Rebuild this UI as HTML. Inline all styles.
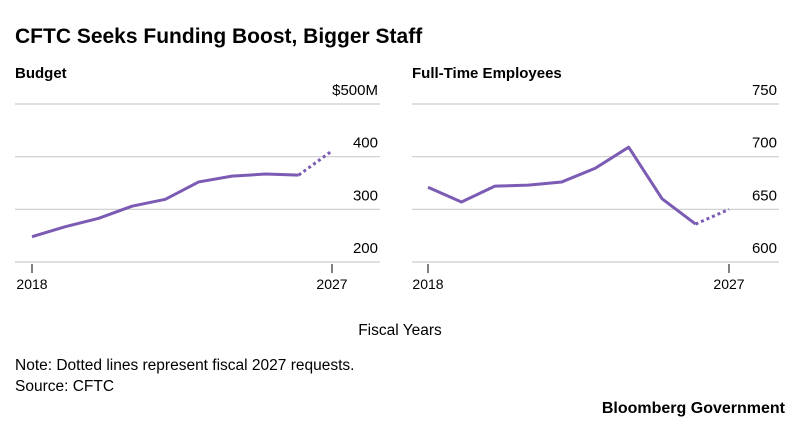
<!DOCTYPE html>
<html><head><meta charset="utf-8"><style>
body{margin:0;background:#fff;font-family:"Liberation Sans",sans-serif;color:#000}
svg{display:block}
</style></head><body>
<svg width="800" height="430" id="svg">
<text x="15" y="43" font-size="21" font-weight="bold">CFTC Seeks Funding Boost, Bigger Staff</text>
<text x="15" y="78" font-size="15" font-weight="bold">Budget</text>
<text x="412" y="78" font-size="15" font-weight="bold">Full-Time Employees</text>
<text x="400" y="335" font-size="15.5" text-anchor="middle">Fiscal Years</text>
<text x="15" y="370" font-size="15.5">Note: Dotted lines represent fiscal 2027 requests.</text>
<text x="15" y="391" font-size="15.5">Source: CFTC</text>
<text x="785" y="413" font-size="16" font-weight="bold" text-anchor="end">Bloomberg Government</text>
</svg>
<script>
const years=[2018,2019,2020,2021,2022,2023,2024,2025,2026,2027];
const budget=[248,267,283,306,319,352,363,367,365,411];
const fte=[671,657,672,673,676,689,709,660,636,650];
const budgetTicks=[200,300,400,500];
const budgetTickLabels=["200","300","400","$500M"];
const fteTicks=[600,650,700,750];
const fteTickLabels=["600","650","700","750"];
const NS="http://www.w3.org/2000/svg",svg=document.getElementById('svg');
function mk(t,a){const e=document.createElementNS(NS,t);for(const k in a)e.setAttribute(k,a[k]);svg.appendChild(e);return e;}
function panel(p,vals,ticks,labels,name){
 const xs=y=>p.x0+(y-years[0])/(years[years.length-1]-years[0])*(p.x1-p.x0);
 const ys=v=>p.yb-(v-ticks[0])/(ticks[ticks.length-1]-ticks[0])*(p.yb-p.yt);
 ticks.forEach((t,i)=>{
  const g=mk('line',{x1:p.gl,x2:p.gr,y1:ys(t),y2:ys(t),stroke:'#ccc','stroke-width':1.2});
  
  
  const tx=mk('text',{x:p.gr-2,y:ys(t)-9,'font-size':15,'text-anchor':'end'});tx.textContent=labels[i];
  
  
 });
 [years[0],years[years.length-1]].forEach(y=>{
  const l=mk('line',{x1:xs(y),x2:xs(y),y1:p.yb+2,y2:p.yb+11,stroke:'#000','stroke-width':1});
  
  
  const tx=mk('text',{x:xs(y),y:p.yb+27,'font-size':14,'text-anchor':'middle'});tx.textContent=y;
  
  
 });
 const n=vals.length;
 const solid=vals.slice(0,n-1).map((v,i)=>xs(years[i])+','+ys(v)).join(' ');
 const pl=mk('polyline',{points:solid,fill:'none',stroke:'#7b5bb3','stroke-width':3,'stroke-linejoin':'round'});
 
 
 const d=mk('line',{x1:xs(years[n-2]),y1:ys(vals[n-2]),x2:xs(years[n-1]),y2:ys(vals[n-1]),stroke:'#7b5bb3','stroke-width':3,'stroke-dasharray':'3 3'});
 
 
}
panel({x0:32,x1:332,gl:15,gr:380,yt:104,yb:262},budget,budgetTicks,budgetTickLabels,'budget');
panel({x0:428,x1:729,gl:412,gr:779,yt:104,yb:262},fte,fteTicks,fteTickLabels,'fte');
</script>
</body></html>
